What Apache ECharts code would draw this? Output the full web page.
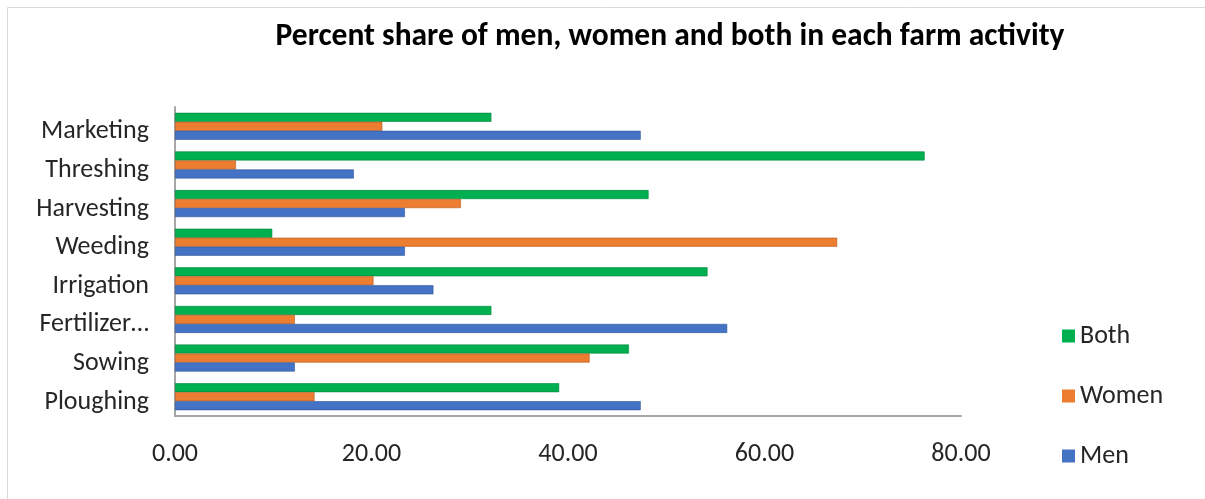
<!DOCTYPE html>
<html>
<head>
<meta charset="utf-8">
<script src="https://cdn.jsdelivr.net/npm/echarts@6/dist/echarts.min.js"></script>
<style>
  html, body { margin: 0; padding: 0; background: #fff; }
  #chart { width: 1205px; height: 499px; }
</style>
</head>
<body>
<div id="chart"></div>
<script>
const categories = ['Ploughing', 'Sowing', 'Fertilizer application', 'Irrigation', 'Weeding', 'Harvesting', 'Threshing', 'Marketing'];
const menValues   = [47.4, 12.2, 56.2, 26.3, 23.4, 23.4, 18.2, 47.4];
const womenValues = [14.2, 42.2, 12.2, 20.2, 67.4, 29.1, 6.2, 21.1];
const bothValues  = [39.1, 46.2, 32.2, 54.2, 9.9, 48.2, 76.3, 32.2];
const xTicks = { min: 0, max: 80, interval: 20 };

const FONT = 'Carlito, Lato, "Open Sans", sans-serif';
const chart = echarts.init(document.getElementById('chart'));

function shortLabel(v) {
  const t = v.length > 10 ? v.slice(0, 10) + '\u2026' : v;
  return '{a|' + t + '}';
}

chart.setOption({
  backgroundColor: '#ffffff',
  animation: false,
  title: {
    text: 'Percent share of men, women and both in each farm activity',
    left: 665,
    textAlign: 'center',
    top: 16,
    textStyle: { fontFamily: FONT, fontWeight: 'bold', fontSize: 31.5, color: '#000000' }
  },
  graphic: [
    { type: 'line', shape: { x1: 7.5, y1: 7.5, x2: 1210, y2: 7.5 }, style: { stroke: '#d9d9d9', lineWidth: 1 } },
    { type: 'line', shape: { x1: 7.5, y1: 7.5, x2: 7.5, y2: 505 }, style: { stroke: '#d9d9d9', lineWidth: 1 } }
  ],
  legend: {
    orient: 'vertical',
    left: 1057,
    top: 318,
    itemWidth: 13,
    itemHeight: 13,
    itemGap: 34,
    icon: 'rect',
    data: ['Both', 'Women', 'Men'],
    itemStyle: { borderWidth: 0 },
    textStyle: { fontFamily: FONT, fontSize: 26, color: '#262626', lineHeight: 26 }
  },
  grid: { left: 175, right: 244, top: 107, bottom: 83, containLabel: false },
  xAxis: {
    type: 'value',
    min: xTicks.min,
    max: xTicks.max,
    interval: xTicks.interval,
    axisLine: { show: true, lineStyle: { color: '#a6a6a6', width: 2 } },
    axisTick: { show: false },
    splitLine: { show: false },
    axisLabel: {
      margin: 25,
      fontFamily: FONT,
      fontSize: 26,
      color: '#262626',
      formatter: v => v.toFixed(2)
    }
  },
  yAxis: {
    type: 'category',
    data: categories,
    axisLine: { show: true, lineStyle: { color: '#a6a6a6', width: 2 } },
    axisTick: { show: false },
    axisLabel: {
      margin: 26,
      fontFamily: FONT,
      fontSize: 26,
      color: '#262626',
      formatter: shortLabel,
      rich: {
        a: { fontFamily: FONT, fontSize: 26, color: '#262626', lineHeight: 26, padding: [11, 0, 0, 0] }
      }
    }
  },
  series: [
    {
      name: 'Both', type: 'bar', data: bothValues, barWidth: 9, barGap: '0%',
      itemStyle: { color: '#00B050', borderColor: '#00843b', borderWidth: 0.6 }
    },
    {
      name: 'Women', type: 'bar', data: womenValues, barWidth: 9, barGap: '0%',
      itemStyle: { color: '#ED7D31', borderColor: '#b35a1f', borderWidth: 0.6 }
    },
    {
      name: 'Men', type: 'bar', data: menValues, barWidth: 9, barGap: '0%',
      itemStyle: { color: '#4472C4', borderColor: '#2f5597', borderWidth: 0.6 }
    }
  ]
});
</script>
</body>
</html>
